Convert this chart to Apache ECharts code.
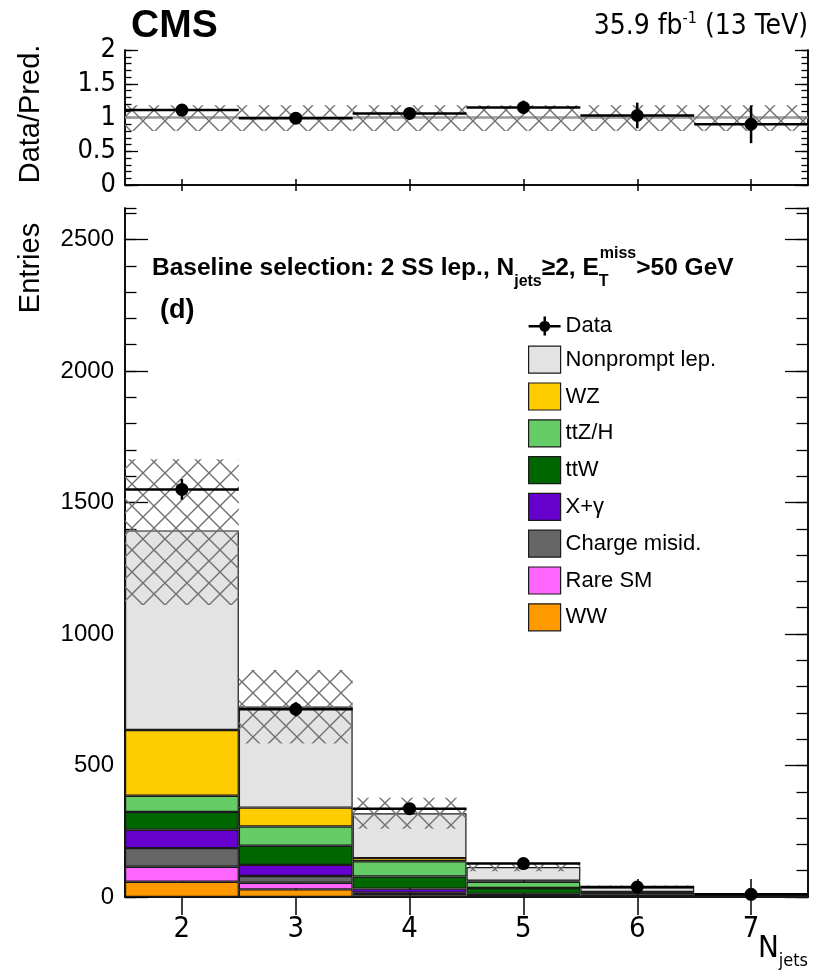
<!DOCTYPE html>
<html>
<head>
<meta charset="utf-8">
<script src="https://cdn.jsdelivr.net/npm/echarts@6/dist/echarts.min.js"></script>
<style>
  html, body { margin: 0; padding: 0; background: #fff; }
  #chart { width: 814px; height: 977px; }
</style>
</head>
<body>
<div id="chart"></div>
<script>
// bins of N_jets
const categories = ["2", "3", "4", "5", "6", "7"];

// stacked predictions (bottom to top)
const ww = [58, 29, 5, 2, 0.5, 0.2];
const rareSM = [57, 25, 7, 3, 1, 0.3];
const chargeMisid = [71, 26, 4, 2, 0.5, 0.2];
const xGamma = [70, 42, 16, 5, 1, 0.3];
const ttW = [67, 73, 46, 22, 7, 2.5];
const ttZH = [62, 73, 58, 24, 8, 3];
const wz = [250, 72, 12, 4, 1, 0.5];
const nonprompt = [759, 384, 170, 52, 18, 4];

// observed data
const dataVals = [1550, 714, 336, 127, 38, 10];
const dataErr = [39, 27, 18, 11, 6, 3];

// total prediction uncertainty band
const bandLo = [1110, 584, 260, 98, 30, 8];
const bandHi = [1665, 863, 377, 130, 44, 14];

// ratio panel
const ratioVals = [1.11, 0.99, 1.06, 1.15, 1.03, 0.9];
const ratioErr = [0.04, 0.04, 0.06, 0.1, 0.19, 0.28];
const ratioBandLo = [0.8, 0.8, 0.8, 0.8, 0.8, 0.8];
const ratioBandHi = [1.18, 1.18, 1.18, 1.18, 1.18, 1.18];

const FONT = "'Liberation Sans', Arial, sans-serif";
const NARROW = "'Liberation Sans Narrow', 'DejaVu Sans Condensed', 'Liberation Sans', sans-serif";

// cross hatch like ROOT fill style 3344
function makeHatch() {
  const c = document.createElement("canvas");
  c.width = 22;
  c.height = 22;
  const g = c.getContext("2d");
  g.strokeStyle = "#707070";
  g.lineWidth = 1.4;
  g.beginPath();
  g.moveTo(0, 0);
  g.lineTo(22, 22);
  g.moveTo(22, 0);
  g.lineTo(0, 22);
  g.stroke();
  return c;
}
const hatch = { image: makeHatch(), repeat: "repeat" };

function bandItem(refLine) {
  return function (params, api) {
    const x = api.value(0);
    const w = api.size([1, 0])[0];
    const hi = api.coord([x, api.value(2)]);
    const lo = api.coord([x, api.value(1)]);
    const children = [];
    if (refLine) {
      const one = api.coord([x, 1]);
      children.push({
        type: "line",
        shape: { x1: one[0] - w / 2, y1: one[1], x2: one[0] + w / 2, y2: one[1] },
        style: { stroke: "#999", lineWidth: 2.5 },
      });
    }
    children.push({
      type: "rect",
      shape: { x: hi[0] - w / 2, y: hi[1], width: w, height: lo[1] - hi[1] },
      style: { fill: hatch },
    });
    return { type: "group", children: children };
  };
}

function pointItem(r) {
  return function (params, api) {
    const x = api.value(0);
    const y = api.value(1);
    const e = api.value(2);
    const w = api.size([1, 0])[0];
    const c = api.coord([x, y]);
    const top = api.coord([x, y + e]);
    const bot = api.coord([x, Math.max(y - e, 0)]);
    return {
      type: "group",
      children: [
        { type: "line", shape: { x1: c[0] - w / 2, y1: c[1], x2: c[0] + w / 2, y2: c[1] }, style: { stroke: "#000", lineWidth: 2.5 } },
        { type: "line", shape: { x1: c[0], y1: top[1], x2: c[0], y2: bot[1] }, style: { stroke: "#000", lineWidth: 2.5 } },
        { type: "circle", shape: { cx: c[0], cy: c[1], r: r }, style: { fill: "#000" } },
      ],
    };
  };
}

const frame = { show: true, lineStyle: { color: "#000", width: 1.5 } };

function xAx(grid, pos, len, labels) {
  return {
    gridIndex: grid,
    type: "category",
    data: categories,
    position: pos,
    boundaryGap: true,
    axisLine: frame,
    axisTick: { show: true, inside: true, alignWithLabel: true, length: len, lineStyle: { color: "#000", width: 1.5 } },
    axisLabel: labels
      ? { show: true, color: "#000", fontFamily: NARROW, fontSize: 29, margin: 18 }
      : { show: false },
    splitLine: { show: false },
  };
}

function yAx(grid, pos, max, interval, len, labels, labelStyle) {
  return {
    gridIndex: grid,
    type: "value",
    position: pos,
    min: 0,
    max: max,
    interval: interval,
    axisLine: frame,
    axisTick: { show: true, inside: true, length: len, lineStyle: { color: "#000", width: 1.3 } },
    axisLabel: labels
      ? Object.assign({
          show: true,
          color: "#000",
          showMaxLabel: max % interval === 0,
          formatter: function (v) { return String(v); },
        }, labelStyle)
      : { show: false },
    splitLine: { show: false },
  };
}

const stackDefs = [
  ["WW", ww, "#ff9900"],
  ["Rare SM", rareSM, "#ff66ff"],
  ["Charge misid.", chargeMisid, "#666666"],
  ["X+\u03b3", xGamma, "#6600cc"],
  ["ttW", ttW, "#006600"],
  ["ttZ/H", ttZH, "#66cc66"],
  ["WZ", wz, "#ffcc00"],
  ["Nonprompt lep.", nonprompt, "#e3e3e3"],
];

const barSeries = stackDefs.map(function (d) {
  return {
    name: d[0],
    type: "bar",
    xAxisIndex: 2,
    yAxisIndex: 4,
    stack: "bkg",
    barWidth: "100%",
    data: d[1],
    itemStyle: { color: d[2], borderColor: "#1a1a1a", borderWidth: 1.2 },
    emphasis: { disabled: true },
    z: 2,
  };
});

const legendNames = ["Nonprompt lep.", "WZ", "ttZ/H", "ttW", "X+\u03b3", "Charge misid.", "Rare SM", "WW"];

const chart = echarts.init(document.getElementById("chart"));

chart.setOption({
  backgroundColor: "#fff",
  animation: false,
  grid: [
    { left: 125, width: 683, top: 50, height: 135 },
    { left: 125, width: 683, top: 208, height: 689 },
  ],
  xAxis: [
    xAx(0, "bottom", 6, false),
    xAx(0, "top", 6, false),
    xAx(1, "bottom", 18, true),
    xAx(1, "top", 18, false),
  ],
  yAxis: [
    yAx(0, "left", 2, 0.5, 13, true, { fontFamily: NARROW, fontSize: 27, margin: 9 }),
    yAx(0, "left", 2, 0.1, 6.5, false),
    yAx(0, "right", 2, 0.5, 13, false),
    yAx(0, "right", 2, 0.1, 6.5, false),
    yAx(1, "left", 2620, 500, 23, true, { fontFamily: FONT, fontSize: 24, margin: 11 }),
    yAx(1, "left", 2620, 100, 11.5, false),
    yAx(1, "right", 2620, 500, 23, false),
    yAx(1, "right", 2620, 100, 11.5, false),
  ],
  legend: {
    orient: "vertical",
    left: 528,
    top: 315,
    padding: 0,
    itemWidth: 32,
    itemHeight: 27,
    itemGap: 8.6,
    selectedMode: false,
    textStyle: { fontFamily: FONT, fontSize: 22, color: "#000" },
    itemStyle: { borderColor: "#1a1a1a", borderWidth: 1.2 },
    data: [
      {
        name: "Data",
        icon: "path://M0,12.5h32v2.5H0z M14.9,4h2.5v19h-2.5z M21.6,13.75a5.5,5.5 0 1,1 -11,0a5.5,5.5 0 1,1 11,0z",
        itemStyle: { color: "#000", borderWidth: 0 },
      },
    ].concat(legendNames.map(function (n) { return { name: n, icon: "rect" }; })),
  },
  series: barSeries.concat([
    {
      name: "unc",
      type: "custom",
      xAxisIndex: 2,
      yAxisIndex: 4,
      renderItem: bandItem(false),
      data: categories.map(function (c, i) { return [i, bandLo[i], bandHi[i]]; }),
      z: 3,
      silent: true,
    },
    {
      name: "Data",
      type: "custom",
      xAxisIndex: 2,
      yAxisIndex: 4,
      renderItem: pointItem(6.5),
      itemStyle: { color: "#000" },
      data: categories.map(function (c, i) { return [i, dataVals[i], dataErr[i]]; }),
      z: 4,
      silent: true,
    },
    {
      name: "ratioUnc",
      type: "custom",
      xAxisIndex: 0,
      yAxisIndex: 0,
      renderItem: bandItem(true),
      data: categories.map(function (c, i) { return [i, ratioBandLo[i], ratioBandHi[i]]; }),
      z: 3,
      silent: true,
    },
    {
      name: "ratio",
      type: "custom",
      xAxisIndex: 0,
      yAxisIndex: 0,
      renderItem: pointItem(6.5),
      data: categories.map(function (c, i) { return [i, ratioVals[i], ratioErr[i]]; }),
      z: 4,
      silent: true,
    },
  ]),
  graphic: [
    {
      type: "text",
      left: 131,
      top: 7,
      style: { text: "CMS", font: "bold 39px " + FONT, fill: "#000" },
    },
    {
      type: "text",
      right: 6,
      top: 11,
      style: {
        text: "35.9 fb{sup|-1} (13 TeV)",
        font: "28px " + NARROW,
        fill: "#000",
        rich: {
          sup: { fontSize: 16, fontFamily: NARROW, verticalAlign: "top", lineHeight: 31 },
        },
        lineHeight: 31,
      },
    },
    {
      type: "text",
      x: 31,
      y: 114,
      rotation: Math.PI / 2,
      style: { text: "Data/Pred.", font: "29px " + FONT, fill: "#000", align: "center", verticalAlign: "middle" },
    },
    {
      type: "text",
      x: 31,
      y: 268,
      rotation: Math.PI / 2,
      style: { text: "Entries", font: "29px " + FONT, fill: "#000", align: "center", verticalAlign: "middle" },
    },
    {
      type: "text",
      left: 152,
      top: 246,
      style: {
        text: "Baseline selection: 2 SS lep., N{sub|jets}\u22652, E{tsub|T}{sup|miss}>50 GeV",
        font: "bold 24.5px " + FONT,
        fill: "#000",
        lineHeight: 44,
        rich: {
          sub: { fontSize: 16, fontWeight: "bold", fontFamily: FONT, verticalAlign: "bottom", lineHeight: 16 },
          tsub: { fontSize: 16, fontWeight: "bold", fontFamily: FONT, verticalAlign: "bottom", lineHeight: 16, width: 1 },
          sup: { fontSize: 16, fontWeight: "bold", fontFamily: FONT, verticalAlign: "top", lineHeight: 16 },
        },
      },
    },
    {
      type: "text",
      left: 160,
      top: 297,
      style: { text: "(d)", font: "bold 27px " + FONT, fill: "#000" },
    },
    {
      type: "text",
      right: 6,
      top: 928,
      style: {
        text: "N{sub|jets}",
        font: "31px " + NARROW,
        fill: "#000",
        lineHeight: 42,
        rich: {
          sub: { fontSize: 18, fontFamily: NARROW, verticalAlign: "bottom", lineHeight: 18 },
        },
      },
    },
  ],
});
</script>
</body>
</html>
